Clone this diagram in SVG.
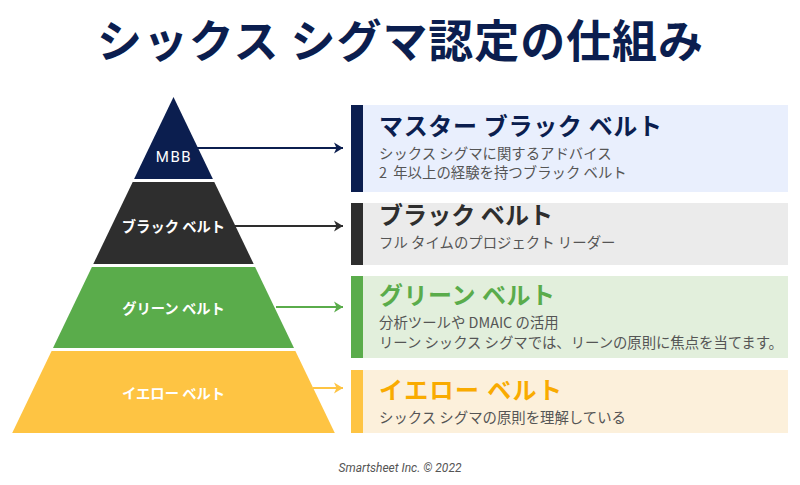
<svg xmlns="http://www.w3.org/2000/svg" width="800" height="485" viewBox="0 0 800 485">
<defs>
<style>
.jp{font-family:"Noto Sans CJK JP","Noto Sans",sans-serif}
.ttl{font-size:24px;font-weight:700}
.sub{font-size:14.4px;fill:#555555}
.lbl{font-size:14.3px;font-weight:700;fill:#ffffff;text-anchor:middle}
.conn line{stroke-width:2;fill:none}
</style>
<marker id="aNavy" markerWidth="11" markerHeight="12" refX="10" refY="6" orient="auto" markerUnits="userSpaceOnUse"><path d="M1,0.5 L10,6 L1,11.5 L3.5,6 z" fill="#0b1e4f"/></marker>
<marker id="aBlack" markerWidth="11" markerHeight="12" refX="10" refY="6" orient="auto" markerUnits="userSpaceOnUse"><path d="M1,0.5 L10,6 L1,11.5 L3.5,6 z" fill="#2e2e2e"/></marker>
<marker id="aGreen" markerWidth="11" markerHeight="12" refX="10" refY="6" orient="auto" markerUnits="userSpaceOnUse"><path d="M1,0.5 L10,6 L1,11.5 L3.5,6 z" fill="#5aac4b"/></marker>
<marker id="aYellow" markerWidth="11" markerHeight="12" refX="10" refY="6" orient="auto" markerUnits="userSpaceOnUse"><path d="M1,0.5 L10,6 L1,11.5 L3.5,6 z" fill="#fec443"/></marker>
</defs>
<rect width="800" height="485" fill="#ffffff"/>
<text class="jp" x="400" y="58" font-size="45" font-weight="700" fill="#0b1e4f" text-anchor="middle" textLength="606">シックス シグマ認定の仕組み</text>

<g id="layer-mbb">
<polygon points="173.5,97 212.9,179 134.1,179" fill="#0b1e4f"/>
<text x="174" y="161.5" font-family="Roboto,'Noto Sans',sans-serif" font-size="15" letter-spacing="1.5" fill="#ffffff" text-anchor="middle">MBB</text>
</g>
<g id="layer-black">
<polygon points="132.7,182 214.3,182 253.7,264 93.3,264" fill="#2e2e2e"/>
<text class="jp lbl" x="173.5" y="232">ブラック ベルト</text>
</g>
<g id="layer-green">
<polygon points="91.9,267 255.1,267 294,348 53,348" fill="#5aac4b"/>
<text class="jp lbl" x="173.5" y="314">グリーン ベルト</text>
</g>
<g id="layer-yellow">
<polygon points="51.6,351 295.4,351 334.8,433 12.2,433" fill="#fec443"/>
<text class="jp lbl" x="173.5" y="399">イエロー ベルト</text>
</g>

<g id="connectors" class="conn">
<line x1="197" y1="148" x2="343" y2="148" stroke="#0b1e4f" marker-end="url(#aNavy)"/>
<line x1="235" y1="226" x2="343" y2="226" stroke="#2e2e2e" marker-end="url(#aBlack)"/>
<line x1="276" y1="307" x2="343" y2="307" stroke="#5aac4b" marker-end="url(#aGreen)"/>
<line x1="313" y1="388" x2="343" y2="388" stroke="#fec443" marker-end="url(#aYellow)"/>
</g>

<g id="box-mbb">
<rect x="351" y="105" width="437" height="87" fill="#e9effd"/>
<rect x="351" y="105" width="12" height="87" fill="#0b1e4f"/>
<text class="jp ttl" x="379" y="135" fill="#0b1e4f" textLength="283">マスター ブラック ベルト</text>
<text class="jp sub" x="379" y="159">シックス シグマに関するアドバイス</text>
<text class="jp sub" x="379" y="178">2 <tspan dx="3">年以上の経験を持つブラック ベルト</tspan></text>
</g>
<g id="box-black">
<rect x="351" y="203" width="437" height="62" fill="#ebebeb"/>
<rect x="351" y="203" width="12" height="62" fill="#2e2e2e"/>
<text class="jp ttl" x="379" y="224" fill="#2e2e2e" textLength="174">ブラック ベルト</text>
<text class="jp sub" x="379" y="248">フル タイムのプロジェクト リーダー</text>
</g>
<g id="box-green">
<rect x="351" y="276" width="437" height="82" fill="#e2efdc"/>
<rect x="351" y="276" width="12" height="82" fill="#5aac4b"/>
<text class="jp ttl" x="379" y="304" fill="#5aac4b" textLength="176">グリーン ベルト</text>
<text class="jp sub" x="379" y="328">分析ツールや DMAIC の活用</text>
<text class="jp sub" x="379" y="348" textLength="404">リーン シックス シグマでは、リーンの原則に焦点を当てます。</text>
</g>
<g id="box-yellow">
<rect x="351" y="370" width="437" height="63" fill="#fcf0db"/>
<rect x="351" y="370" width="12" height="63" fill="#fec443"/>
<text class="jp ttl" x="379" y="399" fill="#f9ab00" textLength="183">イエロー ベルト</text>
<text class="jp sub" x="379" y="423">シックス シグマの原則を理解している</text>
</g>

<text x="400" y="472" font-family="Roboto,'Noto Sans',sans-serif" font-size="12" font-style="italic" fill="#555555" text-anchor="middle">Smartsheet Inc. © 2022</text>
</svg>
